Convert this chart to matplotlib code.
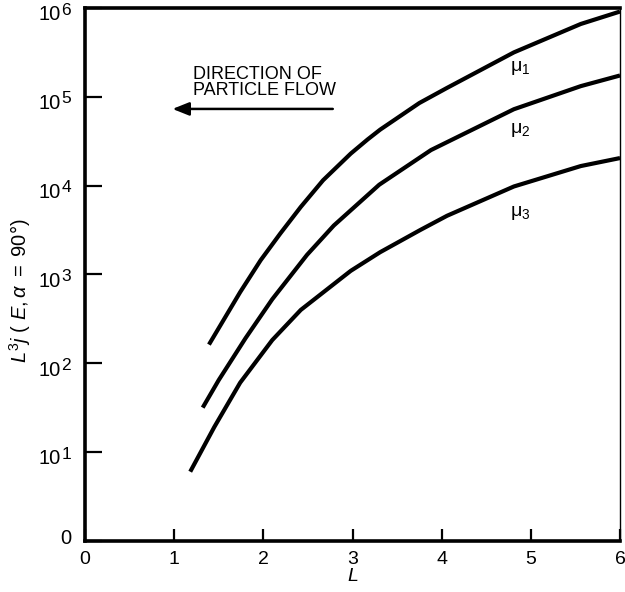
import matplotlib
matplotlib.use("Agg")
import matplotlib.pyplot as plt
from matplotlib.transforms import blended_transform_factory, offset_copy

plt.rcParams['font.family'] = ['Liberation Sans', 'DejaVu Sans']
plt.rcParams['mathtext.fontset'] = 'custom'
plt.rcParams['mathtext.rm'] = 'Liberation Sans'
plt.rcParams['mathtext.it'] = 'Liberation Sans:italic'
plt.rcParams['mathtext.bf'] = 'Liberation Sans:bold'

# ---- data ----
L_mu1 = [1.39, 1.74, 1.97, 2.19, 2.42, 2.67, 2.98, 3.17, 3.31, 3.75, 4.06, 4.81, 5.56, 6.0]
flux_mu1 = [162, 631, 1445, 2884, 5754, 11482, 22909, 33113, 42658, 85114, 125893, 316228, 660693, 912011]

L_mu2 = [1.32, 1.50, 1.80, 2.10, 2.49, 2.79, 3.30, 3.88, 4.81, 5.56, 6.0]
flux_mu2 = [31.6, 64.6, 191, 525, 1660, 3548, 10233, 25119, 72444, 131826, 173780]

L_mu3 = [1.18, 1.45, 1.74, 2.10, 2.42, 2.98, 3.31, 3.76, 4.06, 4.81, 5.56, 6.0]
flux_mu3 = [6.0, 19.1, 60.3, 182, 398, 1096, 1778, 3162, 4571, 9772, 16596, 20417]

series_labels = ['μ$_1$', 'μ$_2$', 'μ$_3$']
label_pos = [(4.88, 2.1e5), (4.88, 4.2e4), (4.88, 4.9e3)]

x_ticks = [0, 1, 2, 3, 4, 5, 6]
x_tick_labels = ['0', '1', '2', '3', '4', '5', '6']
y_ticks = [1, 10, 100, 1e3, 1e4, 1e5, 1e6]
y_tick_base = ['0', '10', '10', '10', '10', '10', '10']
y_tick_exp = ['', '1', '2', '3', '4', '5', '6']

fig = plt.figure(figsize=(6.25, 5.92), dpi=100)
ax = fig.add_axes([0.136, 0.0865, 0.856, 0.9])

for Lx, fy in [(L_mu1, flux_mu1), (L_mu2, flux_mu2), (L_mu3, flux_mu3)]:
    ax.plot(Lx, fy, color='black', lw=3.0, solid_capstyle='butt', solid_joinstyle='round')

for lab, (lx, ly) in zip(series_labels, label_pos):
    ax.text(lx, ly, lab, fontsize=14, ha='center', va='center')

ax.set_yscale('log')
ax.set_xlim(0, 6)
ax.set_ylim(1, 1e6)
ax.set_xticks(x_ticks)
ax.set_xticklabels(x_tick_labels)
ax.set_yticks(y_ticks)
ax.set_yticklabels([])
ax.minorticks_off()
ax.tick_params(axis='both', direction='in', width=1.6, labelsize=14,
               top=False, right=False)
ax.tick_params(axis='x', length=9, pad=7)
ax.tick_params(axis='y', length=12)

# y tick labels as power-of-ten text (base + raised exponent)
trans = blended_transform_factory(ax.transAxes, ax.transData)
for val, base, ex in zip(y_ticks, y_tick_base, y_tick_exp):
    if ex:
        ax.text(0, val, base, fontsize=14.5, ha='right', va='center',
                transform=offset_copy(trans, fig, x=-17.5, y=-5, units='points'))
        ax.text(0, val, ex, fontsize=12.5, ha='left', va='center',
                transform=offset_copy(trans, fig, x=-17.0, y=-1.5, units='points'))
    else:
        ax.text(0, val, base, fontsize=14.5, ha='right', va='center',
                transform=offset_copy(trans, fig, x=-9.5, y=2, units='points'))

for s in ['left', 'bottom', 'top']:
    ax.spines[s].set_linewidth(2.6)
ax.spines['right'].set_linewidth(1.0)

ax.set_xlabel('$L$', fontsize=14)
ax.xaxis.set_label_coords(0.5, -0.052)
ax.set_ylabel(r'$L^{3}j\ (\ E,\alpha\ =\ 90°)$', fontsize=14.5)
ax.yaxis.set_label_coords(-0.098, 0.47)

# annotation
ax.text(1.21, 2.25e5, 'DIRECTION OF\nPARTICLE FLOW', fontsize=13, ha='left', va='top',
        linespacing=0.95)
ax.annotate('', xy=(0.95, 7.3e4), xytext=(2.81, 7.3e4),
            arrowprops=dict(arrowstyle='-|>,head_length=1.0,head_width=0.4',
                            color='black', lw=1.8))

fig.savefig('out.png', dpi=100)
